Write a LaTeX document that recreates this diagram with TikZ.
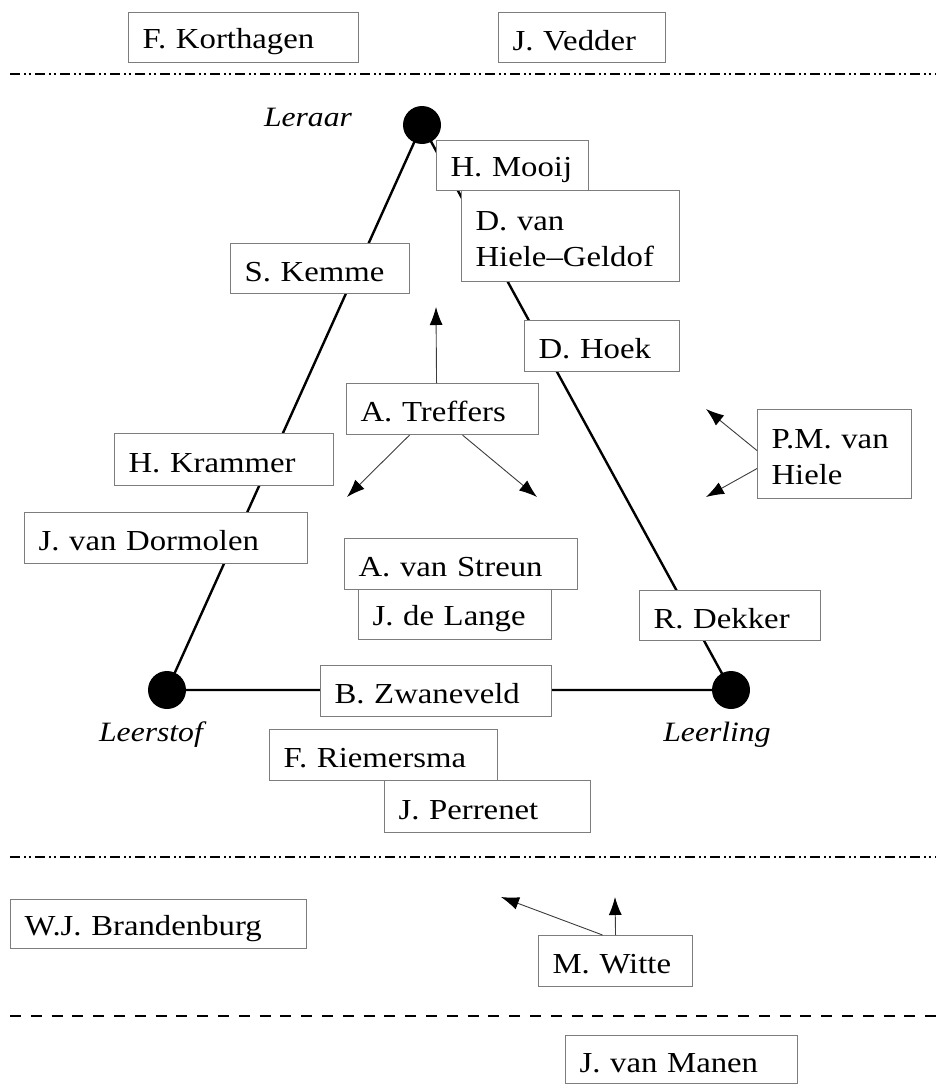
\documentclass[tikz,border=0pt]{standalone}
\usepackage{fontspec}
\setmainfont{Liberation Serif}[FakeStretch=1.13]
\usetikzlibrary{arrows.meta}
\definecolor{boxgray}{RGB}{125,125,125}
\definecolor{arrgray}{RGB}{60,60,60}
\begin{document}
\begin{tikzpicture}[x=1pt,y=-1pt,
  namebox/.style={draw=boxgray,line width=1.1pt,fill=white,anchor=north west,
    inner xsep=14pt,inner ysep=0pt,align=left,
    font=\fontsize{29}{36}\selectfont,
    execute at begin node={\rule{0pt}{29pt}},
    execute at end node={\rule[-4pt]{0pt}{4pt}}},
  vertexdot/.style={circle,fill=black,minimum size=38pt,inner sep=0pt},
  vlabel/.style={font=\fontsize{28}{34}\selectfont\itshape,inner sep=0pt},
  tri/.style={line width=2.4pt},
  infl/.style={draw=arrgray,line width=0.9pt,-{Latex[length=18pt,width=13pt,color=black]}},
  dashdotdot/.style={line width=2.6pt,dash pattern=on 10pt off 4pt on 2pt off 2.5pt on 2pt off 4.5pt},
  dashline/.style={line width=2.6pt,dash pattern=on 11pt off 9.8pt},
]
\useasboundingbox (0,0) rectangle (942,1084);

% separator lines
\coordinate (s1a) at (10,74);  \coordinate (s1b) at (936,74);
\coordinate (s2a) at (10,857); \coordinate (s2b) at (936,857);
\coordinate (s3a) at (10,1016); \coordinate (s3b) at (936,1016);
\draw[dashdotdot] (s1a) -- (s1b);
\draw[dashdotdot] (s2a) -- (s2b);
\draw[dashline] (s3a) -- (s3b);

% triangle
\node[vertexdot] (leraar) at (422,125) {};
\node[vertexdot] (leerstof) at (167,690) {};
\node[vertexdot] (leerling) at (731,690) {};
\draw[tri] (leraar.center) -- (leerstof.center) -- (leerling.center) -- cycle;

\node[vlabel] (lleraar) at (308,117) {Leraar};
\node[vlabel] (lleerstof) at (151,735) {Leerstof};
\node[vlabel] (lleerling) at (717,735) {Leerling};

% boxes
\node[namebox,text width=202pt,minimum height=50pt] (korthagen) at (128,12) {F. Korthagen};
\node[namebox,text width=139pt,minimum height=50pt] (vedder) at (498,12) {J. Vedder};
\node[namebox,text width=124pt,minimum height=50pt] (mooij) at (436,140) {H. Mooij};
\node[namebox,text width=190pt,minimum height=91pt] (hgeldof) at (461,190) {D. van\\Hiele--Geldof};
\node[namebox,text width=151pt,minimum height=50pt] (kemme) at (230,243) {S. Kemme};
\node[namebox,text width=127pt,minimum height=51pt] (hoek) at (524,320) {D. Hoek};
\node[namebox,text width=164pt,minimum height=51pt] (treffers) at (346,383) {A. Treffers};
\node[namebox,text width=126pt,minimum height=89pt] (pmhiele) at (757,409) {P.M. van\\Hiele};
\node[namebox,text width=191pt,minimum height=52pt] (krammer) at (114,433) {H. Krammer};
\node[namebox,text width=255pt,minimum height=51pt] (dormolen) at (24,512) {J. van Dormolen};
\node[namebox,text width=205pt,minimum height=51pt] (streun) at (344,538) {A. van Streun};
\node[namebox,text width=165pt,minimum height=50pt] (lange) at (358,589) {J. de Lange};
\node[namebox,text width=153pt,minimum height=50pt] (dekker) at (639,590) {R. Dekker};
\node[namebox,text width=203pt,minimum height=51pt] (zwaneveld) at (320,665) {B. Zwaneveld};
\node[namebox,text width=200pt,minimum height=51pt] (riemersma) at (269,729) {F. Riemersma};
\node[namebox,text width=178pt,minimum height=52pt] (perrenet) at (384,780) {J. Perrenet};
\node[namebox,text width=268pt,minimum height=49pt] (brandenburg) at (10,899) {W.J. Brandenburg};
\node[namebox,text width=126pt,minimum height=51pt] (witte) at (538,935) {M. Witte};
\node[namebox,text width=204pt,minimum height=48pt] (manen) at (565,1035) {J. van Manen};

% influence arrows
\coordinate (tup) at (436,307);
\coordinate (tdl) at (347,497);
\coordinate (tdr) at (537,497);
\draw[infl] ([xshift=-6pt]treffers.north) -- (tup);
\draw[infl] ([xshift=-33pt]treffers.south) -- (tdl);
\draw[infl] ([xshift=20pt]treffers.south) -- (tdr);

\coordinate (pul) at (706,409);
\coordinate (pdl) at (706,497);
\draw[infl] ([yshift=3.5pt]pmhiele.west) -- (pul);
\draw[infl] ([yshift=-14.5pt]pmhiele.west) -- (pdl);

\coordinate (wul) at (501,897);
\coordinate (wup) at (615,897);
\draw[infl] ([xshift=-13pt]witte.north) -- (wul);
\draw[infl] (witte.north) -- (wup);
\end{tikzpicture}
\end{document}
